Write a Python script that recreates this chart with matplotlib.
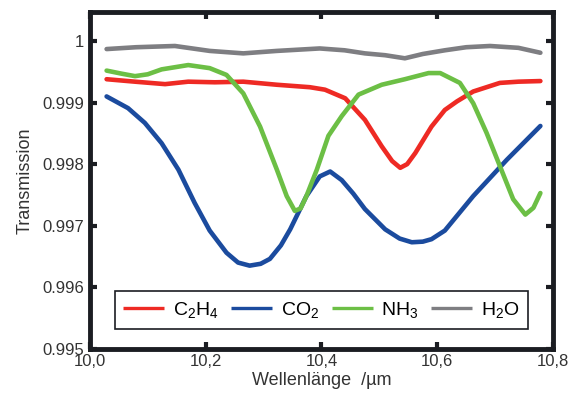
import matplotlib
matplotlib.use("Agg")
import matplotlib.pyplot as plt

plt.rcParams["font.family"] = ["Liberation Sans", "DejaVu Sans"]
plt.rcParams["mathtext.fontset"] = "custom"
plt.rcParams["mathtext.rm"] = "Liberation Sans"

# wavelength (um) and transmission
x_h2o = [10.029, 10.08, 10.147, 10.207, 10.265, 10.323, 10.397, 10.44, 10.475,
         10.51, 10.544, 10.575, 10.613, 10.65, 10.691, 10.74, 10.778]
h2o = [0.99987, 0.99990, 0.99992, 0.99984, 0.99980, 0.99984, 0.99988, 0.99985, 0.99980,
       0.99977, 0.99972, 0.99979, 0.99985, 0.99990, 0.99992, 0.99989, 0.99981]

x_c2h4 = [10.029, 10.078, 10.130, 10.170, 10.216, 10.265, 10.323, 10.380, 10.406, 10.441,
          10.475, 10.504, 10.522, 10.536, 10.548, 10.562, 10.590, 10.613, 10.634,
          10.662, 10.708, 10.74, 10.778]
c2h4 = [0.99938, 0.99934, 0.99930, 0.99934, 0.99933, 0.99934, 0.99929, 0.99925, 0.99921,
        0.99907, 0.99872, 0.99829, 0.99805, 0.99794, 0.99800, 0.99818, 0.99861, 0.99888,
        0.99902, 0.99918, 0.99932, 0.99934, 0.99935]

x_co2 = [10.029, 10.066, 10.095, 10.124, 10.153, 10.181, 10.207, 10.236, 10.256, 10.276,
         10.295, 10.311, 10.330, 10.346, 10.374, 10.397, 10.415, 10.435, 10.455, 10.475,
         10.510, 10.535, 10.556, 10.575, 10.590, 10.613, 10.662, 10.720, 10.778]
co2 = [0.99910, 0.99891, 0.99867, 0.99834, 0.99791, 0.99737, 0.99692, 0.99656, 0.99640,
       0.99635, 0.99638, 0.99646, 0.99668, 0.99694, 0.99748, 0.99780, 0.99788, 0.99774,
       0.99752, 0.99727, 0.99694, 0.99679, 0.99673, 0.99674, 0.99678, 0.99692, 0.99748,
       0.99807, 0.99862]

x_nh3 = [10.029, 10.055, 10.078, 10.100, 10.124, 10.170, 10.207, 10.236, 10.265, 10.294,
         10.323, 10.340, 10.354, 10.364, 10.374, 10.392, 10.412, 10.435, 10.464, 10.504,
         10.544, 10.585, 10.605, 10.639, 10.662, 10.685, 10.708, 10.731, 10.752, 10.766,
         10.778]
nh3 = [0.99952, 0.99947, 0.99943, 0.99946, 0.99954, 0.99961, 0.99956, 0.99945, 0.99915,
       0.99861, 0.99791, 0.99748, 0.99724, 0.99728, 0.99748, 0.99791, 0.99846, 0.99878,
       0.99913, 0.99929, 0.99938, 0.99948, 0.99948, 0.99932, 0.99899, 0.99851, 0.99797,
       0.99743, 0.99718, 0.99729, 0.99753]

series = [
    (x_c2h4, c2h4, "#ee2a24", r"$\mathregular{C_2H_4}$"),
    (x_co2, co2, "#1b4b9e", r"$\mathregular{CO_2}$"),
    (x_nh3, nh3, "#6cbf45", r"$\mathregular{NH_3}$"),
    (x_h2o, h2o, "#7e7e82", r"$\mathregular{H_2O}$"),
]

xticks = [10.0, 10.2, 10.4, 10.6, 10.8]
xticklabels = ["10,0", "10,2", "10,4", "10,6", "10,8"]
yticks = [0.995, 0.996, 0.997, 0.998, 0.999, 1.0]
yticklabels = ["0.995", "0.996", "0.997", "0.998", "0.999", "1"]

fig = plt.figure(figsize=(5.72, 4.05), dpi=100)
ax = fig.add_axes([0.157, 0.139, 0.81, 0.831])

for xs, ys, col, lab in series:
    ax.plot(xs, ys, color=col, lw=3.3, label=lab, solid_capstyle="round",
            solid_joinstyle="round")

ax.set_xlim(10.0, 10.8)
ax.set_ylim(0.995, 1.00047)
ax.set_xticks(xticks)
ax.set_xticklabels(xticklabels)
ax.set_yticks(yticks)
ax.set_yticklabels(yticklabels)
ax.tick_params(direction="in", length=5, width=3, labelsize=12, colors="#1b1d22",
               top=True, right=True, pad=4)
ax.tick_params(axis="x", labelcolor="#333333")
ax.tick_params(axis="y", labelcolor="#333333")
for sp in ax.spines.values():
    sp.set_linewidth(3.5)
    sp.set_color("#1b1d22")

ax.set_xlabel("Wellenlänge  /µm", fontsize=13, color="#333333", labelpad=2)
ax.set_ylabel("Transmission", fontsize=13, color="#333333", labelpad=6)

leg = ax.legend(loc="lower center", bbox_to_anchor=(0.5, 0.03), ncol=4, fontsize=14,
                fancybox=False, framealpha=1, edgecolor="#1b1d22", handlelength=2.1,
                handletextpad=0.45, columnspacing=0.65, borderpad=0.45)
leg.get_frame().set_linewidth(1.2)
for ln in leg.get_lines():
    ln.set_linewidth(2.4)
    ln.set_solid_capstyle("butt")

fig.savefig("out.png", dpi=100)
